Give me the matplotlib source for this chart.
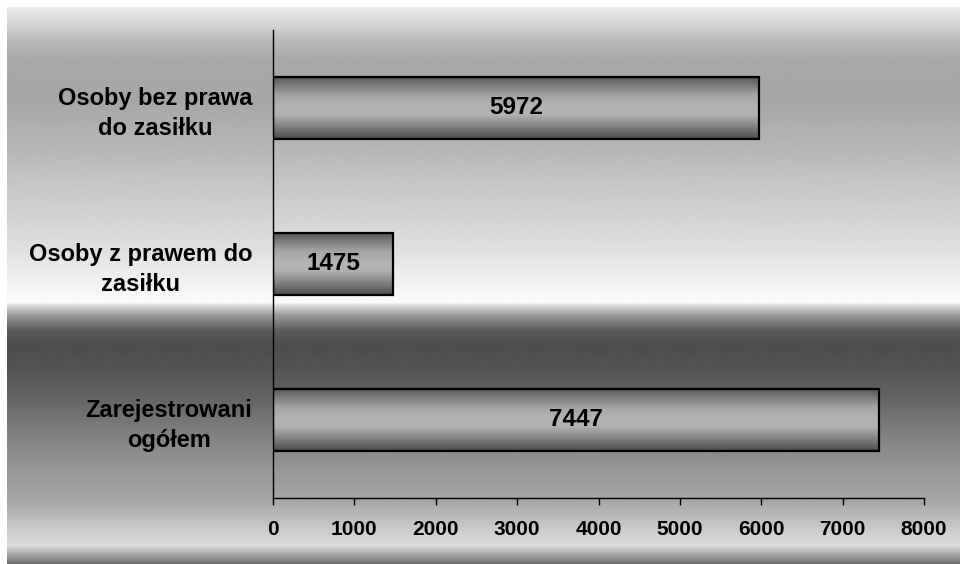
import numpy as np
import matplotlib
matplotlib.use('Agg')
import matplotlib.pyplot as plt

plt.rcParams['font.family'] = ['Liberation Sans', 'DejaVu Sans']

# data (bottom to top, as drawn)
categories = ['Zarejestrowani\nogółem',
              'Osoby z prawem do\nzasiłku',
              'Osoby bez prawa\ndo zasiłku']
values = [7447, 1475, 5972]
xticks = list(range(0, 8001, 1000))

W, H = 960, 564
fig = plt.figure(figsize=(W / 100, H / 100), dpi=100)

# background: vertical grey gradient with a hard dark band in the middle
stops_y = [0, 13, 33, 53, 93, 143, 193, 243, 283, 295, 298, 308, 323, 338, 363,
           393, 443, 493, 523, 538, 545, 557]
stops_v = [0.93, 0.86, 0.73, 0.66, 0.65, 0.72, 0.80, 0.88, 0.96, 0.98, 0.86,
           0.60, 0.36, 0.30, 0.33, 0.40, 0.55, 0.65, 0.80, 0.86, 0.70, 0.42]
rows = np.arange(557)
col = np.interp(rows, stops_y, stops_v)
bg = fig.add_axes([7 / W, 0, 1 - 7 / W, 557 / H], zorder=0)
bg.imshow(col[:, None], cmap='gray', vmin=0, vmax=1, aspect='auto',
          interpolation='bilinear', extent=[0, 1, 0, 1])
bg.axis('off')

# main axes
ax = fig.add_axes([273 / W, 1 - 498 / H, (924 - 273) / W, (498 - 30) / H], zorder=1)
ax.patch.set_alpha(0)

ypos = np.arange(len(categories))
bars = ax.barh(ypos, values, height=0.4, color='none', edgecolor='black',
               linewidth=1.6, zorder=3)

# cylinder-like shading inside each bar
g = np.interp(np.linspace(0, 1, 100), [0, 0.08, 0.3, 0.5, 0.62, 0.85, 1],
              [0.30, 0.42, 0.64, 0.71, 0.69, 0.46, 0.30])
for bar in bars:
    x0, y0 = bar.get_x(), bar.get_y()
    im = ax.imshow(g[:, None], cmap='gray', vmin=0, vmax=1, aspect='auto',
                   interpolation='bilinear',
                   extent=[x0, x0 + bar.get_width(), y0, y0 + bar.get_height()],
                   zorder=2)
    im.set_clip_path(bar)

for y, v in zip(ypos, values):
    ax.text(v / 2, y, str(v), ha='center', va='center', fontsize=17.5,
            fontweight='bold', zorder=4)

ax.set_xlim(0, 8000)
ax.set_ylim(-0.5, 2.5)
ax.set_xticks(xticks)
ax.set_xticklabels([str(t) for t in xticks], fontsize=15, fontweight='bold')
ax.set_yticks(ypos)
ax.set_yticklabels(categories, fontsize=17, fontweight='bold',
                   multialignment='center', linespacing=1.35)
ax.tick_params(axis='y', length=0, pad=15)
ax.tick_params(axis='x', length=5, width=1, direction='out', pad=11)
for s in ['top', 'right']:
    ax.spines[s].set_visible(False)
for s in ['left', 'bottom']:
    ax.spines[s].set_linewidth(1)
    ax.spines[s].set_color('black')

fig.savefig('out.png', dpi=100)
